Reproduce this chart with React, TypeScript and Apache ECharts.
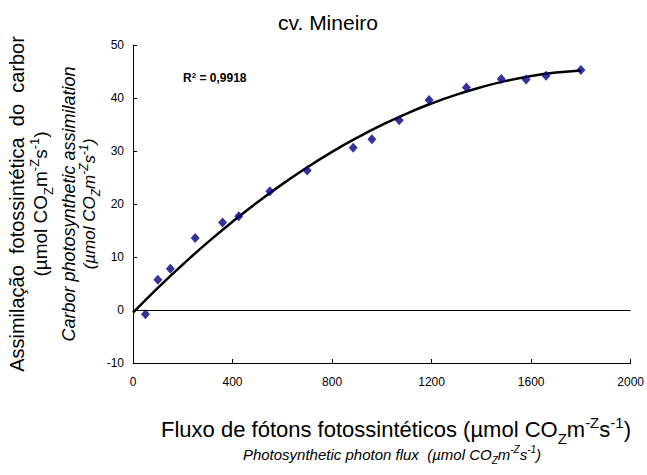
import React, { useEffect, useRef } from "react";
import * as echarts from "echarts";

// Measured points (PPFD vs net assimilation)
const ppfd = [50, 100, 150, 250, 360, 425, 550, 700, 885, 960, 1070, 1190, 1340, 1480, 1580, 1660, 1800];
const assimilation = [-0.8, 5.7, 7.8, 13.6, 16.5, 17.7, 22.4, 26.3, 30.6, 32.2, 35.8, 39.6, 42.0, 43.6, 43.5, 44.2, 45.3];

// Fitted trend line
const trendX = [0, 100, 200, 300, 400, 500, 600, 700, 800, 900, 1000, 1100, 1200, 1300, 1400, 1500, 1600, 1700, 1800];
const trendY = [-0.5, 4.17, 8.58, 12.75, 16.66, 20.33, 23.75, 26.91, 29.83, 32.49, 34.9, 37.07, 38.98, 40.64, 42.05, 43.23, 44.14, 44.8, 45.21];

const xTicks = [0, 400, 800, 1200, 1600, 2000];
const yTicks = [-10, 0, 10, 20, 30, 40, 50];

const titleText = "cv. Mineiro";
const r2Text = "0,9918";

const FONT = "'Liberation Sans', Arial, Helvetica, sans-serif";

function unitRich(size: number, italic: boolean) {
  const fs = italic ? "italic" : "normal";
  const small = Math.round(size * 0.68);
  const base = { fontStyle: fs, fontFamily: FONT, color: "#000", verticalAlign: "bottom" };
  return {
    n: { ...base, fontSize: size, lineHeight: size, padding: [0, 0, Math.round(size * 0.25), 0] },
    sub: { ...base, fontSize: small, lineHeight: small, padding: [0, 0, 0, 0] },
    sup: { ...base, fontSize: small, lineHeight: small, padding: [0, 0, Math.round(size * 0.72), 0] },
  };
}

const unitString = (lead: string) =>
  `{n|${lead}(µmol CO}{sub|Z}{n|m}{sup|-Z}{n|s}{sup|-1}{n|)}`;

export default function App() {
  const ref = useRef<HTMLDivElement>(null);
  useEffect(() => {
    document.body.style.margin = "0";
    if (!ref.current) return;
    const chart = echarts.init(ref.current, null, { renderer: "svg" });
    const scatterData = ppfd.map((x, i) => [x, assimilation[i]]);
    const trendData = trendX.map((x, i) => [x, trendY[i]]);
    const cy = 204;
    chart.setOption({
      animation: false,
      backgroundColor: "#fff",
      grid: { left: 133, right: 15, top: 45, bottom: 112, containLabel: false },
      xAxis: {
        type: "value",
        min: xTicks[0],
        max: xTicks[xTicks.length - 1],
        interval: 400,
        axisLine: { onZero: false, lineStyle: { color: "#000", width: 1 } },
        axisTick: { inside: true, length: 4, lineStyle: { color: "#000" } },
        axisLabel: { color: "#000", fontSize: 12, fontFamily: FONT, margin: 13, formatter: (v: number) => String(v) },
        splitLine: { show: false },
      },
      yAxis: {
        type: "value",
        min: yTicks[0],
        max: yTicks[yTicks.length - 1],
        interval: 10,
        axisLine: { onZero: false, lineStyle: { color: "#000", width: 1 } },
        axisTick: { inside: true, length: 4, lineStyle: { color: "#000" } },
        axisLabel: { color: "#000", fontSize: 12, fontFamily: FONT, margin: 9, formatter: (v: number) => String(v) },
        splitLine: { show: false },
      },
      series: [
        {
          type: "line",
          data: trendData,
          smooth: true,
          showSymbol: false,
          symbol: "none",
          lineStyle: { color: "#000", width: 2.5 },
          z: 3,
          markLine: {
            silent: true,
            symbol: ["none", "none"],
            label: { show: false },
            lineStyle: { color: "#000", width: 1, type: "solid" },
            data: [{ yAxis: 0 }],
          },
        },
        {
          type: "scatter",
          data: scatterData,
          symbol: "diamond",
          symbolSize: [9, 10],
          itemStyle: { color: "#000080" },
          z: 4,
        },
      ],
      graphic: [
        {
          type: "text",
          x: 328,
          y: 22,
          style: { text: titleText, fontSize: 21, fontFamily: FONT, fill: "#000", align: "center", verticalAlign: "middle" },
        },
        {
          type: "text",
          x: 183,
          y: 78,
          style: {
            text: `{b|R}{s|2}{b| = ${r2Text}}`,
            align: "left",
            verticalAlign: "middle",
            rich: {
              b: { fontSize: 12, fontWeight: "bold", fontFamily: FONT, color: "#000", verticalAlign: "middle", lineHeight: 14 },
              s: { fontSize: 8, fontWeight: "bold", fontFamily: FONT, color: "#000", verticalAlign: "top", lineHeight: 8 },
            },
          },
        },
        {
          type: "text",
          x: 17,
          y: cy,
          rotation: Math.PI / 2,
          style: {
            text: "Assimilação  fotossintética  do  carbor",
            fontSize: 20,
            fontFamily: FONT,
            fill: "#000",
            align: "center",
            verticalAlign: "middle",
          },
        },
        {
          type: "text",
          x: 45,
          y: cy,
          rotation: Math.PI / 2,
          style: { text: unitString(""), rich: unitRich(19, false), align: "center", verticalAlign: "middle" },
        },
        {
          type: "text",
          x: 69,
          y: cy,
          rotation: Math.PI / 2,
          style: {
            text: "Carbor photosynthetic assimilation",
            fontSize: 18,
            fontStyle: "italic",
            fontFamily: FONT,
            fill: "#000",
            align: "center",
            verticalAlign: "middle",
          },
        },
        {
          type: "text",
          x: 93,
          y: cy,
          rotation: Math.PI / 2,
          style: { text: unitString(""), rich: unitRich(17, true), align: "center", verticalAlign: "middle" },
        },
        {
          type: "text",
          x: 396,
          y: 435,
          style: {
            text: unitString("Fluxo de fótons fotossintéticos "),
            rich: unitRich(22, false),
            align: "center",
            verticalAlign: "middle",
          },
        },
        {
          type: "text",
          x: 392,
          y: 458,
          style: {
            text: unitString("Photosynthetic photon flux  "),
            rich: unitRich(15, true),
            align: "center",
            verticalAlign: "middle",
          },
        },
      ],
    });
    return () => chart.dispose();
  }, []);
  return <div ref={ref} style={{ width: 647, height: 475 }} />;
}
